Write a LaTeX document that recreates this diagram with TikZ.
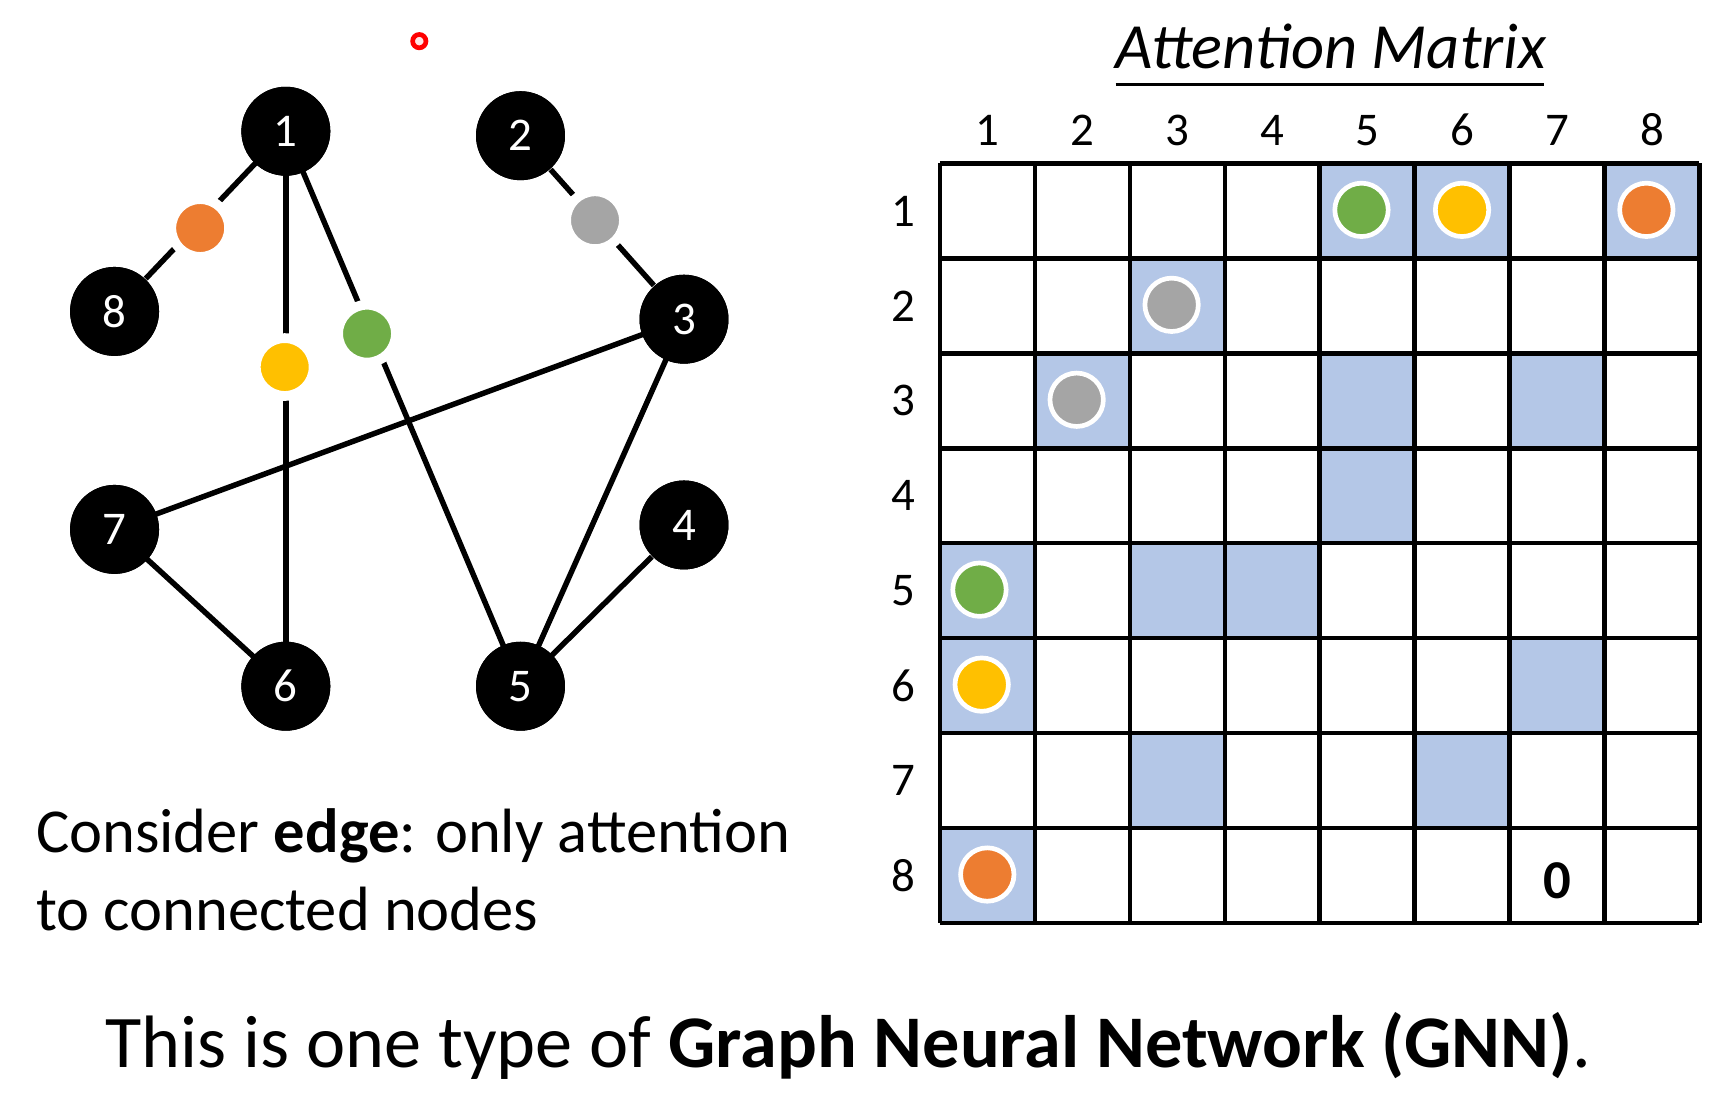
\documentclass[tikz,border=0pt]{standalone}
\usepackage{fontspec}
\setmainfont{Carlito}
\begin{document}
\begin{tikzpicture}[x=0.1mm,y=-0.1mm,
  gn/.style={circle,fill=black,minimum size=80\pxu,inner sep=0pt,text=white,font=\fontsize{12}{14}\selectfont},
  dot/.style={circle,draw=white,line width=1.2pt,minimum size=48\pxu,inner sep=0pt},
  gdot/.style={circle,draw=white,line width=2.5pt,minimum size=52\pxu,inner sep=0pt},
  edge/.style={line width=1.4pt},
  lab/.style={font=\fontsize{12}{14}\selectfont}]
\def\pxu{*0.1mm}
\definecolor{cellblue}{HTML}{B4C7E7}
\definecolor{cg}{HTML}{70AD47}
\definecolor{cy}{HTML}{FFC000}
\definecolor{co}{HTML}{ED7D31}
\definecolor{cgr}{HTML}{A5A5A5}
\useasboundingbox (0,0) rectangle (1560,983);
\draw[red,line width=1.2pt,fill=red!10] (377,37) circle (6);
% graph
\node[gn] (n1) at (257,118) {1};
\node[gn] (n2) at (468,122) {2};
\node[gn] (n3) at (615,287) {3};
\node[gn] (n8) at (103,280) {8};
\node[gn] (n7) at (103,476) {7};
\node[gn] (n4) at (615,472) {4};
\node[gn] (n6) at (257,617) {6};
\node[gn] (n5) at (468,617) {5};
\draw[edge] (n1.center) -- (n8);
\draw[edge] (n1.center) -- (n6.center);
\draw[edge] (n1.center) -- (n5.center);
\draw[edge] (n2) -- (n3);
\draw[edge] (n3.center) -- (n7.center);
\draw[edge] (n3.center) -- (n5.center);
\draw[edge] (n4) -- (n5.center);
\draw[edge] (n7.center) -- (n6.center);
\foreach \n/\t in {1/1,2/2,3/3,8/8,7/7,4/4,6/6,5/5} \node[gn] at (n\n) {\t};
\node[gdot,fill=co] (d18) at (180,205) {};
\node[gdot,fill=cy] (d16) at (256,330) {};
\node[gdot,fill=cg] (d15) at (330,300) {};
\node[gdot,fill=cgr] (d23) at (535,198) {};
% matrix
\foreach \r/\c in {1/5,1/6,1/8,2/3,3/2,3/5,3/7,4/5,5/1,5/3,5/4,6/1,6/7,7/3,7/6,8/1}
  \fill[cellblue] ({845+(\c-1)*85.375},{147+(\r-1)*85.375}) rectangle ++(85.375,85.375);
\foreach \i in {0,...,8} {
  \draw[line width=1.1pt] ({845+\i*85.375},147) -- ({845+\i*85.375},830);
  \draw[line width=1.1pt] (845,{147+\i*85.375}) -- (1528,{147+\i*85.375});
}
\foreach \i in {1,...,8} {
  \node[lab] (c\i) at ({845+(\i-0.5)*85.375},117) {\i};
  \node[lab] (r\i) at (812,{147+(\i-0.5)*85.375}) {\i};
}
\foreach \r/\c/\col/\dx in {1/5/cg/-5,1/6/cy/0,1/8/co/-5,2/3/cgr/-5,3/2/cgr/-5,5/1/cg/-7,6/1/cy/-5,8/1/co/0}
  \node[dot,fill=\col] at ({845+(\c-0.5)*85.375+\dx},{147+(\r-0.5)*85.375-1}) {};
\node[font=\fontsize{14}{16}\selectfont\bfseries] (z) at ({845+6.5*85.375},{147+7.5*85.375+5}) {0};
\node[font=\fontsize{16.5}{19}\selectfont\itshape] (title) at (1197,42) {Attention Matrix};
\draw[line width=1pt] (1003,76) -- (1388,76);
\node[anchor=west,align=left,font=\fontsize{16}{20}\selectfont] (t1) at (20,782) {Consider \textbf{edge}: only attention\\to connected nodes};
\node[font=\fontsize{19}{22}\selectfont] (t2) at (763,940) {This is one type of \textbf{Graph Neural Network (GNN)}.};
\end{tikzpicture}
\end{document}
